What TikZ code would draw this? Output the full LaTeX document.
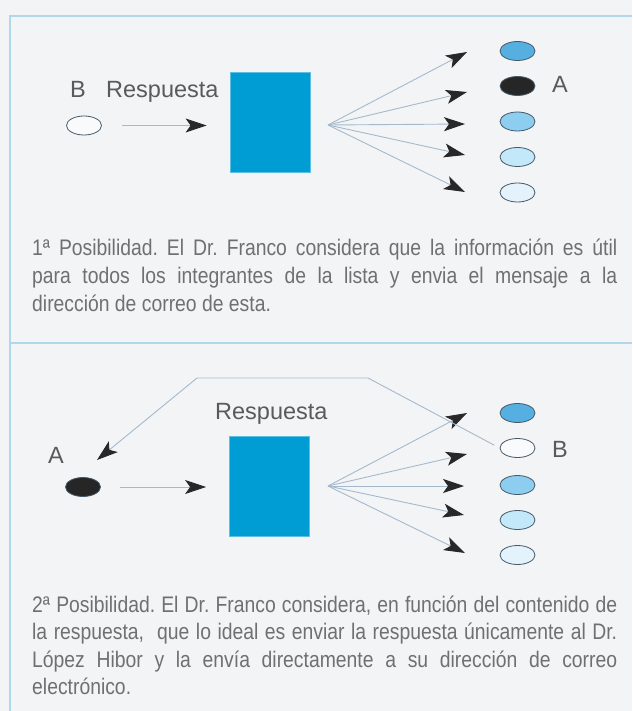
\documentclass[tikz,border=0pt]{standalone}
\usepackage{fontspec}
\setmainfont{Liberation Sans}
\newfontfamily\condfont[FakeStretch=0.86]{Liberation Sans}
\usetikzlibrary{arrows.meta,shapes.geometric}
\definecolor{bgc}{RGB}{243,244,246}
\definecolor{framec}{RGB}{178,214,234}
\definecolor{linec}{RGB}{165,185,205}
\definecolor{tipc}{RGB}{40,40,40}
\definecolor{rectc}{RGB}{0,157,212}
\definecolor{rectb}{RGB}{95,190,228}
\definecolor{ellb}{RGB}{70,90,105}
\definecolor{fillmid}{RGB}{85,175,225}
\definecolor{filllight}{RGB}{140,205,240}
\definecolor{fillpale}{RGB}{195,232,250}
\definecolor{fillwhite}{RGB}{228,242,252}
\definecolor{fillblank}{RGB}{249,250,252}
\definecolor{filldark}{RGB}{38,38,38}
\definecolor{txtc}{RGB}{112,112,112}
\definecolor{lblc}{RGB}{90,90,90}
\tikzset{
  frame/.style={draw=framec, line width=1.5pt},
  box/.style={rectangle, fill=rectc, draw=rectb, line width=0.8pt, minimum width=80pt, minimum height=100pt, inner sep=0pt},
  dot/.style={ellipse, draw=ellb, line width=0.8pt, minimum width=35pt, minimum height=19pt, inner sep=0pt},
  conn/.style={draw=linec, line width=0.9pt, -{Stealth[length=21pt,width=14pt,inset=5pt,color=tipc]}},
  lbl/.style={font=\fontsize{23.5}{28}\selectfont, text=lblc, inner sep=0pt},
  para/.style={font=\condfont\fontsize{22.5}{28}\selectfont\frenchspacing, text=txtc, inner sep=0pt, anchor=base west},
}
\begin{document}
\begin{tikzpicture}[x=1pt,y=-1pt]
\fill[bgc] (0,0) rectangle (632,711);
\useasboundingbox (0,0) rectangle (632,711);
% frame
\draw[frame] (632,16) -- (10,16) -- (10,711);
\draw[frame] (10,343) -- (632,343);

% ---------- panel 1 ----------
\node[dot, fill=fillblank] (b1) at (84,125.5) {};
\node[lbl, anchor=base] (lb1) at (78,98) {B};
\node[lbl, anchor=base west] (resp1) at (106,98) {Respuesta};
\node[box] (r1) at (270,122) {};
\draw[conn, shorten <=20pt, shorten >=23pt] (b1.east) -- (b1.east -| r1.west);
\node[dot, fill=fillmid] (p11) at (517.5,51) {};
\node[dot, fill=filldark] (p12) at (517.5,86) {};
\node[dot, fill=filllight] (p13) at (517.5,121.5) {};
\node[dot, fill=fillpale] (p14) at (517.5,157) {};
\node[dot, fill=fillwhite] (p15) at (517.5,192.5) {};
\node[lbl, anchor=base] (la1) at (560,93) {A};
\coordinate (f1) at (328,125);
\coordinate (t11) at (467,52);
\coordinate (t12) at (467,92);
\coordinate (t13) at (465,124);
\coordinate (t14) at (465,155);
\coordinate (t15) at (465,192);
\foreach \t in {t11,t12,t13,t14,t15} \draw[conn] (f1) -- (\t);

\node[para] (x11) at (32,255) {\makebox[585pt][s]{1ª Posibilidad. El Dr. Franco considera que la información es útil}};
\node[para] (x12) at (32,283) {\makebox[585pt][s]{para todos los integrantes de la lista y envia el mensaje a la}};
\node[para] (x13) at (32,311) {dirección de correo de esta.};

% ---------- panel 2 ----------
\node[dot, fill=filldark] (a2) at (83,487) {};
\node[lbl, anchor=base] (la2) at (56,463) {A};
\node[lbl, anchor=base west] (resp2) at (215,419) {Respuesta};
\node[box] (r2) at (269.5,486.5) {};
\draw[conn, shorten <=19pt, shorten >=23pt] (a2.east) -- (a2.east -| r2.west);
\node[dot, fill=fillmid] (q21) at (517.5,413) {};
\node[dot, fill=fillblank] (q22) at (517.5,448) {};
\node[dot, fill=filllight] (q23) at (517.5,485) {};
\node[dot, fill=fillpale] (q24) at (517.5,520) {};
\node[dot, fill=fillwhite] (q25) at (517.5,555) {};
\node[lbl, anchor=base] (lb2) at (560,457) {B};
\coordinate (f2) at (328,486);
\coordinate (t21) at (467,413);
\coordinate (t22) at (467,454);
\coordinate (t23) at (464,486);
\coordinate (t24) at (464,515);
\coordinate (t25) at (465,553);
\foreach \t in {t21,t22,t23,t24,t25} \draw[conn] (f2) -- (\t);
\coordinate (c1) at (368,378);
\coordinate (c2) at (197,378);
\coordinate (rtip) at (97,460);
\draw[conn, shorten <=6pt] (q22.west) -- (c1) -- (c2) -- (rtip);

\node[para] (x21) at (32,612) {\makebox[585pt][s]{2ª Posibilidad. El Dr. Franco considera, en función del contenido de}};
\node[para] (x22) at (32,639.5) {\makebox[585pt][s]{la respuesta,~ que lo ideal es enviar la respuesta únicamente al Dr.}};
\node[para] (x23) at (32,667) {\makebox[585pt][s]{López Hibor y la envía directamente a su dirección de correo}};
\node[para] (x24) at (32,694.5) {electrónico.};
\end{tikzpicture}
\end{document}
